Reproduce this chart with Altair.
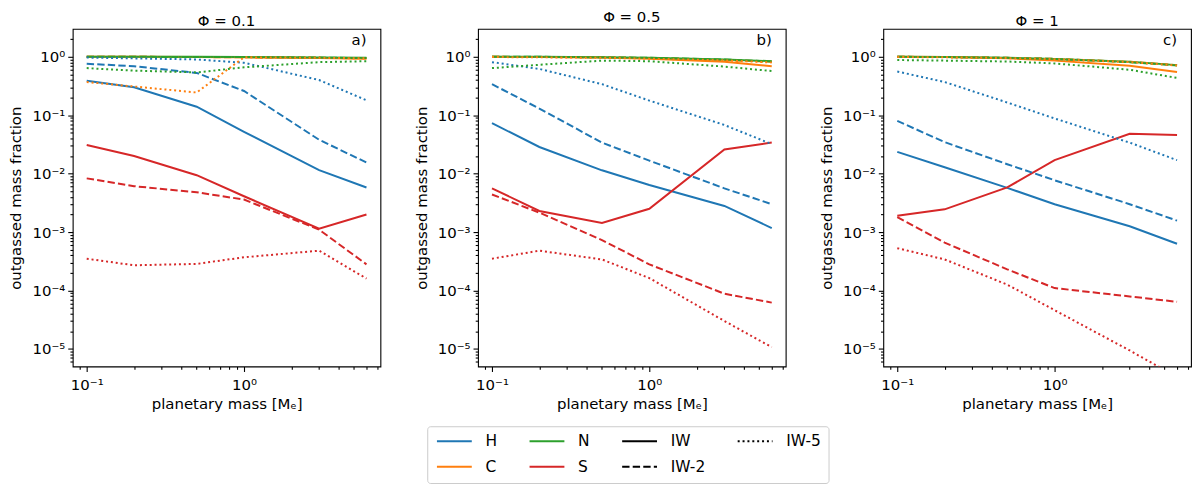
import altair as alt
import pandas as pd

# planetary masses (Earth masses) at which each model was run
masses = [0.1, 0.2, 0.5, 1, 3, 6]
phis = ["0.1", "0.5", "1"]
panel_tags = ["a)", "b)", "c)"]
elements = ["H", "C", "N", "S"]
states = ["IW", "IW-2", "IW-5"]

# outgassed mass fraction, one row per redox state (IW, IW-2, IW-5)
phi01_H = [[0.39, 0.30, 0.14, 0.052, 0.0115, 0.0058],
           [0.76, 0.69, 0.53, 0.26, 0.038, 0.0155],
           [0.97, 0.94, 0.90, 0.79, 0.40, 0.18]]
phi01_C = [[1.0, 1.0, 0.99, 0.98, 0.95, 0.93],
           [1.0, 1.0, 0.99, 0.98, 0.96, 0.94],
           [0.37, 0.31, 0.245, 0.98, 0.96, 0.94]]
phi01_N = [[1.0, 1.0, 1.0, 0.99, 0.97, 0.96],
           [1.0, 1.0, 0.99, 0.99, 0.97, 0.95],
           [0.64, 0.58, 0.54, 0.66, 0.81, 0.84]]
phi01_S = [[0.031, 0.020, 0.0094, 0.0041, 0.00114, 0.0020],
           [0.0083, 0.0061, 0.0048, 0.0036, 0.0011, 0.00028],
           [0.00035, 0.00027, 0.000285, 0.00037, 0.00048, 0.00016]]

phi05_H = [[0.073, 0.0286, 0.0114, 0.0064, 0.0028, 0.00117],
           [0.34, 0.13, 0.034, 0.0167, 0.0056, 0.0030],
           [0.81, 0.62, 0.34, 0.178, 0.068, 0.032]]
phi05_C = [[1.0, 0.99, 0.97, 0.93, 0.82, 0.69],
           [1.0, 0.99, 0.98, 0.95, 0.88, 0.82],
           [0.99, 0.98, 0.96, 0.93, 0.87, 0.80]]
phi05_N = [[1.0, 1.0, 0.98, 0.96, 0.90, 0.84],
           [1.0, 1.0, 0.98, 0.96, 0.90, 0.83],
           [0.64, 0.73, 0.86, 0.84, 0.68, 0.57]]
phi05_S = [[0.0056, 0.0023, 0.00143, 0.0025, 0.026, 0.034],
           [0.0044, 0.00215, 0.00073, 0.00028, 8.8e-5, 6.2e-5],
           [0.00035, 0.00048, 0.00034, 0.000163, 3.0e-5, 1.07e-5]]

phi1_H = [[0.0236, 0.0129, 0.0057, 0.0030, 0.00126, 0.00063],
          [0.080, 0.0346, 0.0145, 0.0077, 0.0030, 0.00157],
          [0.56, 0.37, 0.165, 0.088, 0.034, 0.017]]
phi1_C = [[1.0, 0.99, 0.94, 0.86, 0.70, 0.55],
          [1.0, 0.99, 0.96, 0.92, 0.82, 0.72],
          [0.99, 0.98, 0.95, 0.91, 0.81, 0.71]]
phi1_N = [[1.0, 0.99, 0.96, 0.92, 0.82, 0.72],
          [1.0, 0.99, 0.96, 0.92, 0.81, 0.71],
          [0.88, 0.86, 0.83, 0.77, 0.60, 0.435]]
phi1_S = [[0.0019, 0.00245, 0.0058, 0.017, 0.048, 0.046],
          [0.0018, 0.00066, 0.00023, 0.00011, 7.9e-5, 6.4e-5],
          [0.00053, 0.00034, 0.000126, 4.6e-5, 9.4e-6, 3.3e-6]]

series = {
    "0.1": {"H": phi01_H, "C": phi01_C, "N": phi01_N, "S": phi01_S},
    "0.5": {"H": phi05_H, "C": phi05_C, "N": phi05_N, "S": phi05_S},
    "1": {"H": phi1_H, "C": phi1_C, "N": phi1_N, "S": phi1_S},
}

colors = {"H": "#1f77b4", "C": "#ff7f0e", "N": "#2ca02c", "S": "#d62728"}
dashes = {"IW-2": [7.4, 3.2], "IW-5": [2, 2.9]}

rows = []
for phi in phis:
    for el in elements:
        for state, vals in zip(states, series[phi][el]):
            for m, v in zip(masses, vals):
                rows.append(dict(phi=phi, element=el, state=state, mass=m,
                                 value=v, hex=colors[el]))
df = pd.DataFrame(rows)

# legend entries, filled column by column (2 rows x 4 columns)
legend_keys = ["H", "C", "N", "S", "IW", "IW-2", "IW-5"]
legend_colors = ["#1f77b4", "#ff7f0e", "#2ca02c", "#d62728", "black", "black", "black"]
legend_dashes = [[1, 0], [1, 0], [1, 0], [1, 0], [1, 0], dashes["IW-2"], dashes["IW-5"]]

x_domain = [0.0815, 7.36]
y_domain = [5e-6, 3]
x_ticks = [m * 10.0 ** e for e in (-2, -1, 0) for m in range(1, 10)
           if x_domain[0] <= m * 10.0 ** e <= x_domain[1]]
# skip the tick sitting right on the top edge (its empty label would push the title up)
y_ticks = [m * 10.0 ** e for e in range(-6, 1) for m in range(1, 10)
           if y_domain[0] <= m * 10.0 ** e <= 2.5]

LOG = "log(datum.value) / LN10"
MAJOR = f"abs({LOG} - round({LOG})) < 0.001"
SUP = "['⁰','¹','²','³','⁴','⁵','⁶']"
label_expr = f"{MAJOR} ? '10' + (round({LOG}) < 0 ? '⁻' : '') + {SUP}[abs(round({LOG}))] : ''"
tick_size = {"condition": {"test": MAJOR, "value": 5}, "value": 2.8}

W, H = 309, 339


def panel(i):
    phi = phis[i]
    sub = df[df.phi == phi]
    x = alt.X("mass:Q",
              scale=alt.Scale(type="log", domain=x_domain, nice=False),
              axis=alt.Axis(values=x_ticks, labelExpr=label_expr, tickSize=tick_size,
                            title="planetary mass [Mₑ]", labelOverlap=False,
                            labelFlush=False, grid=False, domain=False,
                            labelPadding=6, titlePadding=4))
    y = alt.Y("value:Q",
              scale=alt.Scale(type="log", domain=y_domain, nice=False),
              axis=alt.Axis(values=y_ticks, labelExpr=label_expr, tickSize=tick_size,
                            title="outgassed mass fraction", labelOverlap=False,
                            labelFlush=False, grid=False, domain=False,
                            labelPadding=3, titlePadding=8))
    layers = []
    for state in states:
        if state in dashes:
            mark = alt.Chart(sub[sub.state == state]).mark_line(
                strokeWidth=2, strokeDash=dashes[state], clip=True)
        else:
            mark = alt.Chart(sub[sub.state == state]).mark_line(strokeWidth=2, clip=True)
        layers.append(mark.encode(x=x, y=y,
                                  color=alt.Color("hex:N", scale=None),
                                  detail="element:N"))
    tag = alt.Chart(alt.Data(values=[{"tag": panel_tags[i]}])).mark_text(
        align="right", baseline="middle", fontSize=15, color="black"
    ).encode(x=alt.value(W - 14), y=alt.value(11), text="tag:N")
    layers.append(tag)

    if i == 1:
        # legend offsets are measured from the first panel's plot origin
        leg = alt.Legend(orient="none", legendX=356, legendY=399, columns=4,
                         symbolType="M-1,0H6", symbolSize=100, symbolStrokeWidth=2,
                         labelOffset=36, columnPadding=27, rowPadding=9,
                         padding=7, labelFontSize=15.5, labelColor="black",
                         fillColor="white", strokeColor="#cccccc", cornerRadius=3)
        legend_layer = alt.Chart(pd.DataFrame({"key": legend_keys})).mark_line(
            strokeWidth=2
        ).encode(
            x=alt.value(0), y=alt.value(0),
            color=alt.Color("key:N", title=None, legend=leg,
                            scale=alt.Scale(domain=legend_keys, range=legend_colors)),
            strokeDash=alt.StrokeDash("key:N", title=None, legend=leg,
                                      scale=alt.Scale(domain=legend_keys, range=legend_dashes)),
        )
        layers.append(legend_layer)

    return alt.layer(*layers).properties(
        width=W, height=H,
        title=alt.TitleParams(f"Φ = {phi}", frame="group", anchor="middle",
                              fontSize=15, fontWeight="normal", offset=0),
    )


chart = alt.hconcat(*[panel(i) for i in range(3)], spacing=32).properties(
    padding=0
).configure(font="DejaVu Sans").configure_view(
    stroke="black", strokeWidth=1.1
).configure_axis(
    labelFontSize=15, titleFontSize=15, titleFontWeight="normal",
    labelColor="black", titleColor="black", tickColor="black", tickWidth=1.1,
    labelFont="DejaVu Sans", titleFont="DejaVu Sans"
).configure_legend(labelFont="DejaVu Sans")

chart.save("out.html", embed_options={"renderer": "svg", "actions": False})
